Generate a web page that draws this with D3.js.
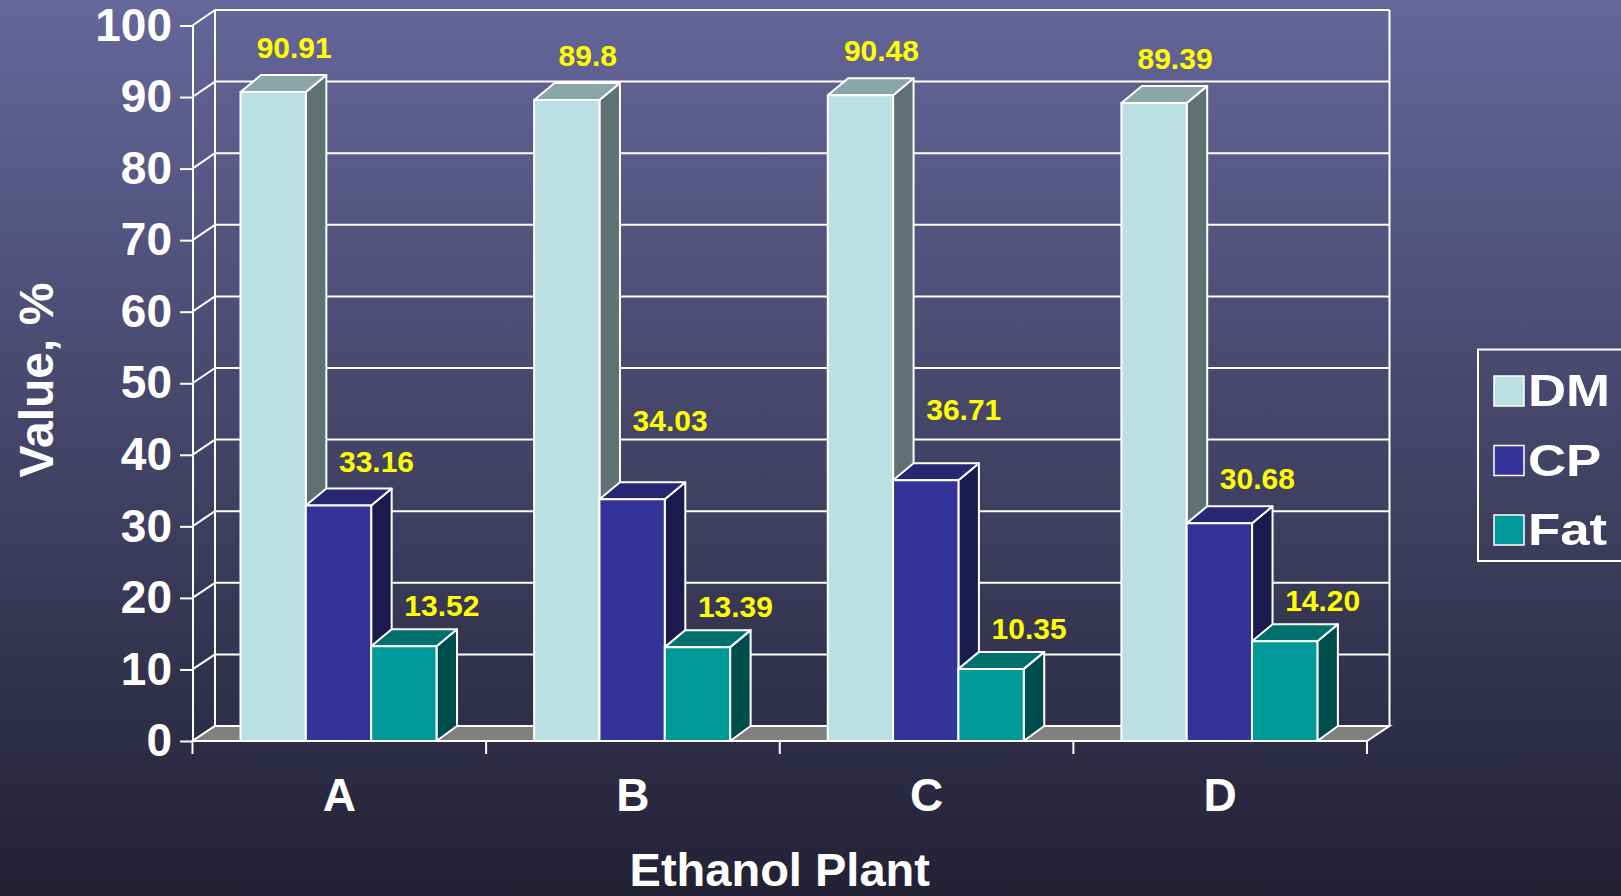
<!DOCTYPE html>
<html>
<head>
<meta charset="utf-8">
<script src="https://cdn.jsdelivr.net/npm/d3@7"></script>
<style>
  body { margin: 0; overflow: hidden; background: #232236; }
  text { font-family: "Liberation Sans", Arial, sans-serif; font-weight: bold; }
</style>
</head>
<body>
<div id="chart-container"></div>
<script>
// Data
const plants = ["A", "B", "C", "D"];
const seriesNames = ["DM", "CP", "Fat"];
const dmValues = [90.91, 89.8, 90.48, 89.39];
const cpValues = [33.16, 34.03, 36.71, 30.68];
const fatValues = [13.52, 13.39, 10.35, 14.20];
const dmLabels = ["90.91", "89.8", "90.48", "89.39"];
const cpLabels = ["33.16", "34.03", "36.71", "30.68"];
const fatLabels = ["13.52", "13.39", "10.35", "14.20"];
const yTickValues = [0, 10, 20, 30, 40, 50, 60, 70, 80, 90, 100];

const seriesValues = [dmValues, cpValues, fatValues];
const seriesLabels = [dmLabels, cpLabels, fatLabels];

// colours per series: front, top, side
const colors = [
  { front: "#bbe0e3", top: "#8ba6a8", side: "#5f7173" },
  { front: "#333399", top: "#262673", side: "#1b1a4d" },
  { front: "#009999", top: "#00706e", side: "#004d4d" }
];
// label placement (Excel pushed a couple of CP labels up)
const labelShift = [21, 38, 38];
const labelGap = [17, 17, 13];
const labelLift = { "B-CP": 34, "C-CP": 26 };

const width = 1621;
const height = 896;

// front plane and back wall of the 3d box
const plotLeft = 192.5, plotRight = 1367;
const wallDx = 22.5;
const barDx = 20.5, barDy = 17;

const x = d3.scaleBand().domain(plants).range([plotLeft, plotRight]);
const xs = d3.scaleBand().domain(seriesNames).range([48, 244]);
const yFront = d3.scaleLinear().domain([0, 100]).range([741, 25.5]);
const yBack = d3.scaleLinear().domain([0, 100]).range([726, 10]);

const svg = d3.select("#chart-container")
  .append("svg")
  .attr("width", width)
  .attr("height", height);

// background gradient
const grad = svg.append("defs").append("linearGradient")
  .attr("id", "bg")
  .attr("x1", 0).attr("y1", 0).attr("x2", 0).attr("y2", 1);
grad.append("stop").attr("offset", "0%").attr("stop-color", "#65669a");
grad.append("stop").attr("offset", "100%").attr("stop-color", "#222134");

svg.append("rect")
  .attr("width", width)
  .attr("height", height)
  .attr("fill", "url(#bg)");

const lineStyle = g => g.attr("stroke", "#fff").attr("stroke-width", 2).attr("fill", "none");

// back wall gridlines
svg.selectAll(".backGrid")
  .data(yTickValues.slice(1))
  .join("line")
  .attr("x1", plotLeft + wallDx)
  .attr("x2", plotRight + wallDx)
  .attr("y1", d => yBack(d))
  .attr("y2", d => yBack(d))
  .call(lineStyle);

// left wall diagonals
svg.selectAll(".sideGrid")
  .data(yTickValues)
  .join("line")
  .attr("x1", plotLeft)
  .attr("x2", plotLeft + wallDx)
  .attr("y1", d => yFront(d))
  .attr("y2", d => yBack(d))
  .call(lineStyle);

// wall verticals
svg.selectAll(".wallEdge")
  .data([plotLeft + wallDx, plotRight + wallDx])
  .join("line")
  .attr("x1", d => d)
  .attr("x2", d => d)
  .attr("y1", yBack(100))
  .attr("y2", yBack(0))
  .call(lineStyle);

// floor
svg.append("polygon")
  .attr("points", [
    [plotLeft, yFront(0)], [plotRight, yFront(0)],
    [plotRight + wallDx, yBack(0)], [plotLeft + wallDx, yBack(0)]
  ].join(" "))
  .attr("fill", "#808080")
  .attr("stroke", "#fff")
  .attr("stroke-width", 2);

// 3d bars
plants.forEach((p, i) => {
  seriesNames.forEach((s, j) => {
    const v = seriesValues[j][i];
    const xl = x(p) + xs(s);
    const w = xs.bandwidth();
    const backTop = yBack(v);
    const frontTop = backTop + barDy;
    const bottom = yFront(0);
    const g = svg.append("g")
      .attr("stroke", "#fff")
      .attr("stroke-width", 2)
      .attr("stroke-linejoin", "round");

    g.append("polygon")
      .attr("points", [[xl + w, frontTop], [xl + w + barDx, backTop],
        [xl + w + barDx, yBack(0)], [xl + w, bottom]].join(" "))
      .attr("fill", colors[j].side);

    g.append("polygon")
      .attr("points", [[xl, frontTop], [xl + barDx, backTop],
        [xl + w + barDx, backTop], [xl + w, frontTop]].join(" "))
      .attr("fill", colors[j].top);

    g.append("rect")
      .attr("x", xl)
      .attr("y", frontTop)
      .attr("width", w)
      .attr("height", bottom - frontTop)
      .attr("fill", colors[j].front);
  });
});

// value labels
plants.forEach((p, i) => {
  seriesNames.forEach((s, j) => {
    const v = seriesValues[j][i];
    const lift = labelLift[`${p}-${s}`] || 0;
    svg.append("text")
      .attr("x", x(p) + xs(s) + xs.bandwidth() / 2 + labelShift[j])
      .attr("y", yBack(v) - labelGap[j] - lift)
      .attr("text-anchor", "middle")
      .style("font-size", "30px")
      .attr("fill", "#ffff00")
      .text(seriesLabels[j][i]);
  });
});

// y axis
const yAxis = svg.append("g")
  .attr("transform", `translate(${plotLeft},0)`)
  .call(d3.axisLeft(yFront)
    .tickValues(yTickValues)
    .tickSize(12.5)
    .tickPadding(8)
    .tickSizeOuter(0));
yAxis.select(".domain").attr("stroke", "#fff").attr("stroke-width", 2);
yAxis.selectAll(".tick line").attr("stroke", "#fff").attr("stroke-width", 2);
yAxis.selectAll(".tick text")
  .attr("fill", "#fff")
  .style("font-size", "46px")
  .style("font-family", "'Liberation Sans', Arial, sans-serif")
  .style("font-weight", "bold");

// x axis labels
const xAxis = svg.append("g")
  .attr("transform", `translate(0,${yFront(0)})`)
  .call(d3.axisBottom(x).tickSize(0).tickPadding(37));
xAxis.select(".domain").remove();
xAxis.selectAll(".tick text")
  .attr("fill", "#fff")
  .style("font-size", "46px")
  .style("font-family", "'Liberation Sans', Arial, sans-serif")
  .style("font-weight", "bold");

// front floor line and category tick marks
svg.append("line")
  .attr("x1", plotLeft).attr("x2", plotRight)
  .attr("y1", yFront(0)).attr("y2", yFront(0))
  .call(lineStyle);
svg.selectAll(".xTick")
  .data(d3.range(plants.length + 1))
  .join("line")
  .attr("x1", d => plotLeft + d * x.step())
  .attr("x2", d => plotLeft + d * x.step())
  .attr("y1", yFront(0))
  .attr("y2", yFront(0) + 13)
  .call(lineStyle);

// axis titles
svg.append("text")
  .attr("transform", "translate(53,380) rotate(-90)")
  .attr("text-anchor", "middle")
  .attr("fill", "#fff")
  .style("font-size", "48px")
  .text("Value, %");

svg.append("text")
  .attr("x", (plotLeft + plotRight) / 2)
  .attr("y", 886)
  .attr("text-anchor", "middle")
  .attr("fill", "#fff")
  .style("font-size", "47px")
  .text("Ethanol Plant");

// legend
const legend = svg.append("g").attr("transform", "translate(1478,349.5)");
legend.append("rect")
  .attr("width", 200)
  .attr("height", 211.5)
  .attr("fill", "none")
  .attr("stroke", "#fff")
  .attr("stroke-width", 2);

const items = legend.selectAll(".item")
  .data(seriesNames)
  .join("g")
  .attr("transform", (d, i) => `translate(16,${26.5 + i * 69.5})`);
items.append("rect")
  .attr("width", 30)
  .attr("height", 30)
  .attr("fill", (d, i) => colors[i].front)
  .attr("stroke", "#fff")
  .attr("stroke-width", 1.5);
items.append("text")
  .attr("transform", "translate(34,30) scale(1.2,1)")
  .attr("fill", "#fff")
  .style("font-size", "44px")
  .text(d => d);
</script>
</body>
</html>
